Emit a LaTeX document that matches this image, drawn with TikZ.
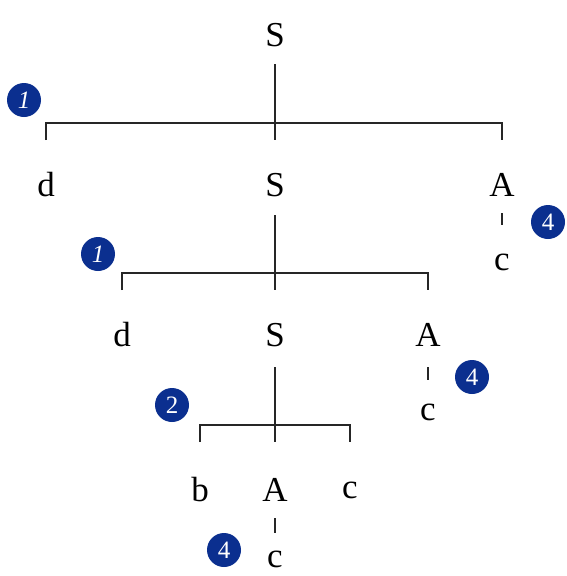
\documentclass[tikz,border=0pt]{standalone}
\usepackage{fontspec}
\setmainfont{Liberation Serif}
\begin{document}
\begin{tikzpicture}[x=1pt,y=-1pt,
  sym/.style={inner sep=0pt,font=\fontsize{35}{40}\selectfont,anchor=center},
  badge/.style={circle,fill=badgeblue,text=white,minimum size=34pt,inner sep=0pt,
    font=\fontsize{25}{26}\selectfont},
  edge/.style={line width=1.3pt,draw=black!85}]
\definecolor{badgeblue}{HTML}{0B2F8F}
\useasboundingbox (0,0) rectangle (567,576);
% row 1
\node[sym] (s0) at (275,35) {S};
% row 2
\node[sym] (d1) at (46,185) {d};
\node[sym] (s1) at (275,185) {S};
\node[sym] (a1) at (502,185) {A};
\node[sym] (c1) at (502,262) {c};
% row 3
\node[sym] (d2) at (122,335) {d};
\node[sym] (s2) at (275,335) {S};
\node[sym] (a2) at (428,335) {A};
\node[sym] (c2) at (428,412) {c};
% row 4
\node[sym] (b3) at (200,490) {b};
\node[sym] (a3) at (275,490) {A};
\node[sym] (c3) at (350,490) {c};
\node[sym] (c4) at (275,559) {c};
% rule brackets
\draw[edge] (s0.center) ++(0,29) -- ++(0,76);
\draw[edge] (d1.center) ++(0,-45) |- (275,123) -| ([yshift=45pt]a1.center);
\draw[edge] (s1.center) ++(0,30) -- ++(0,75);
\draw[edge] (d2.center) ++(0,-45) |- (275,273) -| ([yshift=45pt]a2.center);
\draw[edge] (s2.center) ++(0,32) -- ++(0,75);
\draw[edge] (b3.center) ++(0,-48) |- (275,425) -| ([yshift=48pt]c3.center);
% unary steps
\draw[edge] (a1.center) ++(0,28) -- ++(0,12);
\draw[edge] (a2.center) ++(0,32) -- ++(0,13);
\draw[edge] (a3.center) ++(0,28) -- ++(0,15);
% rule numbers
\node[badge] (n1) at (24,100) {\textit{1}};
\node[badge] (n2) at (98,254) {\textit{1}};
\node[badge] (n3) at (172,405) {2};
\node[badge] (n4) at (548,222) {4};
\node[badge] (n5) at (472,377) {4};
\node[badge] (n6) at (224,550) {4};
\end{tikzpicture}
\end{document}
